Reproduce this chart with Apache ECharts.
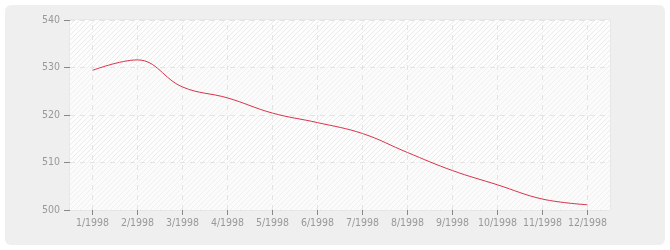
<!DOCTYPE html>
<html><head><meta charset="utf-8">
<script src="https://cdn.jsdelivr.net/npm/echarts@6/dist/echarts.min.js"></script>
<style>html,body{margin:0;padding:0;background:#fff}#c{width:670px;height:250px}</style>
</head><body><div id="c"></div>
<script>
const categories = ['1/1998','2/1998','3/1998','4/1998','5/1998','6/1998','7/1998','8/1998','9/1998','10/1998','11/1998','12/1998'];
const values = [529.4, 531.6, 525.9, 523.6, 520.4, 518.4, 516.1, 512.1, 508.3, 505.3, 502.3, 501.1];
const yTicks = [500, 510, 520, 530, 540];

function hatch(bg, fg) {
  const n = 5;
  const cv = document.createElement('canvas');
  cv.width = n; cv.height = n;
  const ctx = cv.getContext('2d');
  ctx.fillStyle = bg; ctx.fillRect(0, 0, n, n);
  ctx.fillStyle = fg;
  for (let i = 0; i < n; i++) ctx.fillRect(i, n - 1 - i, 1, 1);
  return cv;
}
const patA = {image: hatch('#fbfbfb', '#f1f1f1'), repeat: 'repeat'};
const patB = {image: hatch('#fdfdfd', '#ebebeb'), repeat: 'repeat'};
const FONT = 'DejaVu Sans Condensed';

const chart = echarts.init(document.getElementById('c'), null, {renderer:'canvas'});
chart.setOption({
  animation: false,
  backgroundColor: '#fff',
  graphic: [{type:'rect', z:-10, silent:true, shape:{x:5,y:5,width:660,height:240,r:6}, style:{fill:'#efefef'}}],
  grid: {left:70, right:60, top:20, bottom:40, show:true, backgroundColor:'#fafafa', borderColor:'#e0e0e0', borderWidth:1},
  xAxis: {
    type:'category', data:categories, boundaryGap:true,
    axisLine:{show:false},
    axisTick:{show:true, alignWithLabel:true, length:5, lineStyle:{color:'#888'}},
    axisLabel:{color:'#999', fontFamily:FONT, fontSize:10.5, margin:8, interval:0},
    splitLine:{show:false}
  },
  yAxis: {
    type:'value', min:yTicks[0], max:yTicks[yTicks.length-1], interval:10,
    axisLine:{show:false},
    axisTick:{show:true, length:6, lineStyle:{color:'#888'}},
    axisLabel:{color:'#999', fontFamily:FONT, fontSize:10.5, margin:10},
    splitLine:{show:true, lineStyle:{color:'#e4e4e4', type:[5,5]}},
    splitArea:{show:true, areaStyle:{color:[patA, patB]}}
  },
  series: [{
    type:'line', data:values, smooth:0.4, symbol:'none',
    lineStyle:{color:'#d8334a', width:1},
    markLine:{
      silent:true, symbol:'none', label:{show:false}, z:1,
      lineStyle:{color:'#e4e4e4', type:[5,5], width:1},
      data: categories.map(c => ({xAxis:c}))
    }
  }]
});
</script></body></html>
